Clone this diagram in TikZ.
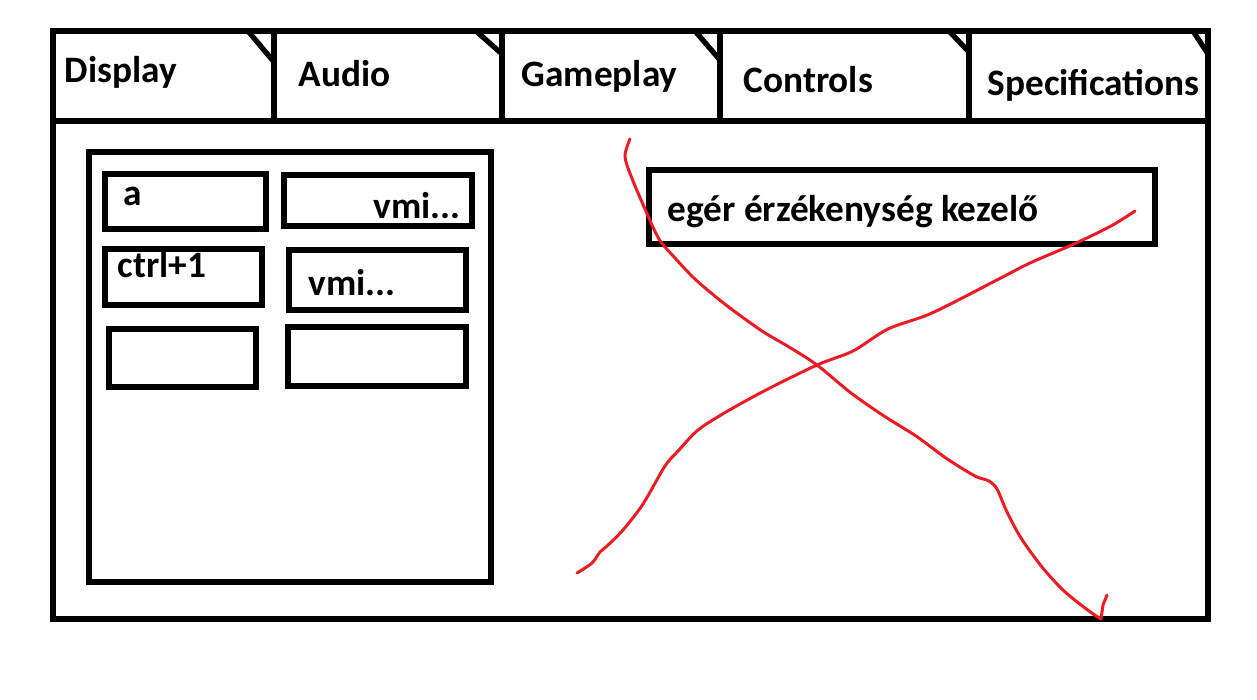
\documentclass[tikz,border=0pt]{standalone}
\usepackage{fontspec}
\setmainfont{Carlito}
\definecolor{paintred}{RGB}{237,28,36}

\begin{document}
\begin{tikzpicture}[x=0.01cm,y=-0.01cm,
  frame/.style={black,line width=1.5pt},
  lbl/.style={anchor=base west,inner sep=0,font=\bfseries\fontsize{10.6}{12}\selectfont},
  cross/.style={paintred,line width=0.85pt,line cap=round,line join=round}]
\useasboundingbox (0,0) rectangle (1257,700);
\fill[white] (0,0) rectangle (1257,700);
% window
\draw[frame] (53,31) rectangle (1208,619);
% tabs with folded corner
\foreach \xa/\xb/\fx/\fy in {53/274/248/62, 274/502/476/54, 502/720/695/60, 720/969/949/52, 969/1208/1193/54} {
 \draw[frame] (\xa,31) rectangle (\xb,121);
 \draw[frame] (\fx,31) -- (\xb,\fy);
}
\node[lbl] (display) at (64,82) {Display};
\node[lbl] (audio) at (298,87) {Audio};
\node[lbl] (gameplay) at (521,87) {Gameplay};
\node[lbl] (controls) at (743,92) {Controls};
\node[lbl] (specs) at (987,95) {Specifications};
% key bindings panel
\draw[frame] (89,152) rectangle (491,582);
\draw[frame] (105,174) rectangle (266,229);
\draw[frame] (284,175) rectangle (472,226);
\draw[frame] (105,249) rectangle (262,305);
\draw[frame] (289,250) rectangle (466,310);
\draw[frame] (109,329) rectangle (256,387);
\draw[frame] (288,327) rectangle (466,386);
\node[lbl] (keyA) at (123,205) {a};
\node[lbl] (vmiA) at (373,218) {vmi...};
\node[lbl] (keyCtrl) at (117,277) {ctrl+1};
\node[lbl] (vmiB) at (308,295) {vmi...};
% mouse sensitivity
\draw[frame] (649,170) rectangle (1155,244);
\node[lbl] (mouse) at (667,221) {egér érzékenység kezelő};
% crossed out
\draw[cross] plot[smooth,tension=.5] coordinates {(630,139) (625,156) (631,176) (645,209) (659,239) (675,258) (696,280) (726,305) (762,331) (789,347) (817,365) (851,393) (884,416) (916,436) (943,456) (963,469) (977,477) (989,481) (997,489) (1007,512) (1021,538) (1042,567) (1064,591) (1089,611) (1101,619)} -- (1103,605) -- (1107,595);
\draw[cross] plot[smooth,tension=.5] coordinates {(577,573) (592,563) (600,552) (607,546) (623,530) (643,504) (665,466) (679,450) (698,430) (726,412) (766,390) (817,365) (853,351) (888,329) (932,313) (995,281) (1030,263) (1074,244) (1111,226) (1135,211)};
\end{tikzpicture}
\end{document}
